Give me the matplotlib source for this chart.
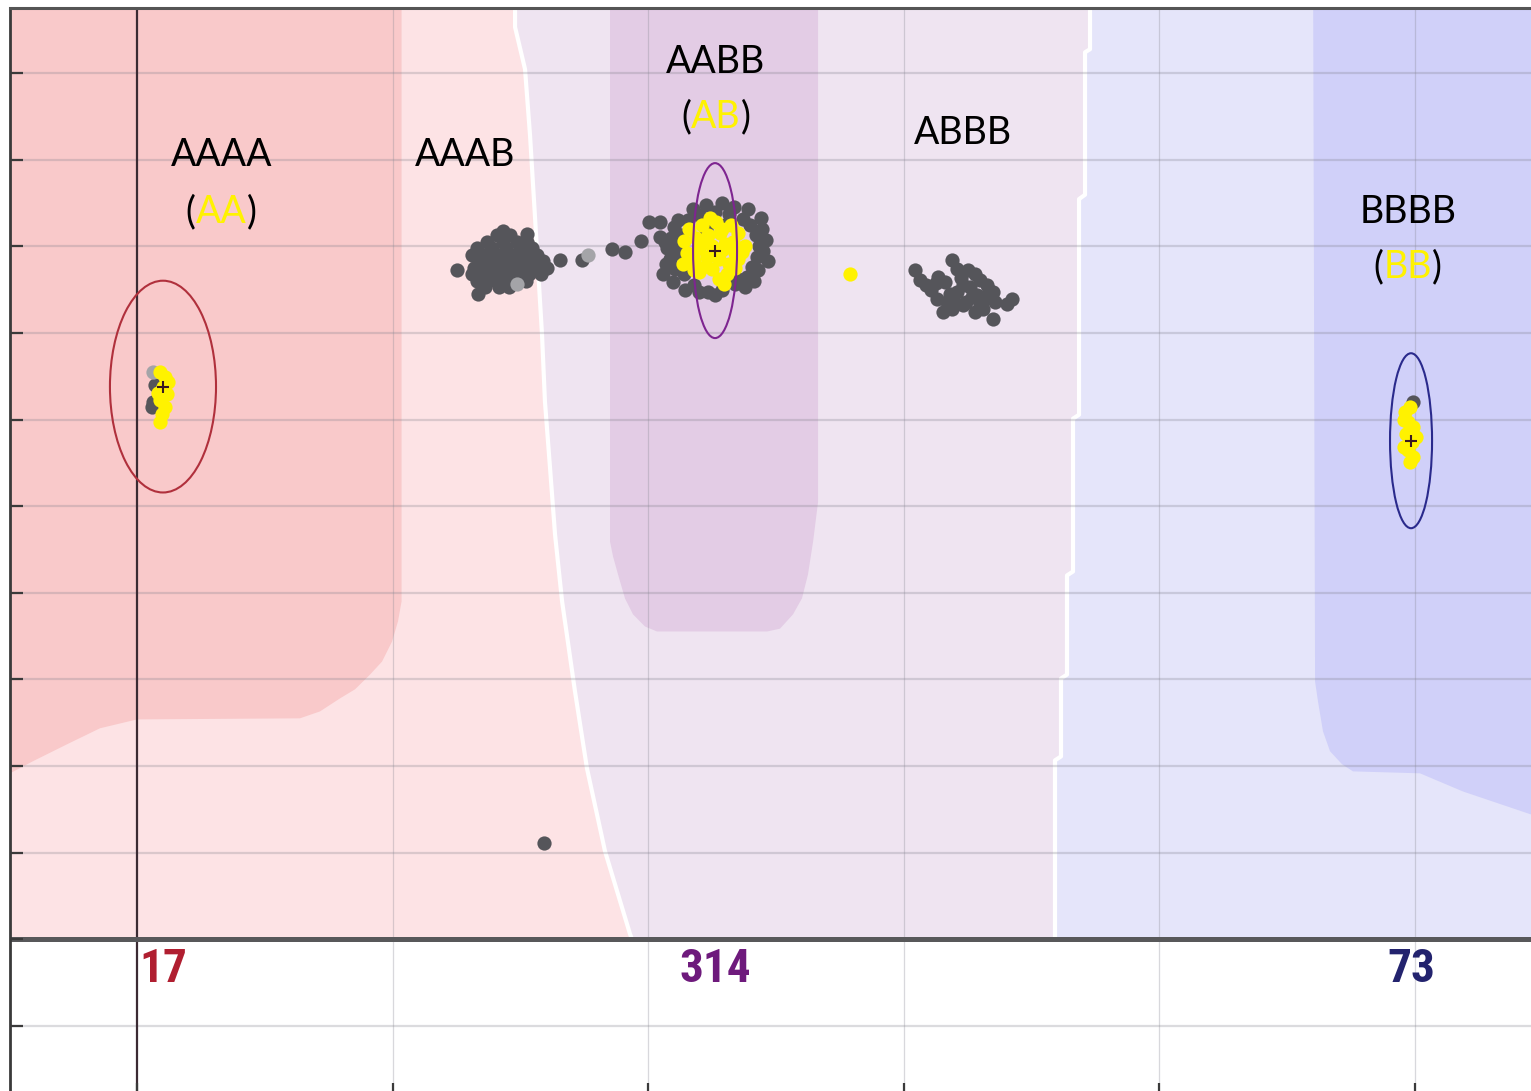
import matplotlib
matplotlib.use("Agg")
import matplotlib.pyplot as plt
from matplotlib.patches import Ellipse

# ---------------- genotype cluster data (Norm Theta, Norm R) ----------------
# AAAB cluster (uncalled, grey)
aaab_theta = [0.282, 0.292,
              0.274, 0.286, 0.297, 0.305,
              0.266, 0.278, 0.289, 0.300, 0.309,
              0.262, 0.271, 0.283, 0.294, 0.303, 0.313,
              0.268, 0.276, 0.287, 0.297, 0.308, 0.318,
              0.264, 0.273, 0.281, 0.291, 0.301, 0.311, 0.321,
              0.262, 0.270, 0.279, 0.289, 0.298, 0.307, 0.316,
              0.266, 0.275, 0.285, 0.294, 0.304,
              0.272, 0.283, 0.291,
              0.267, 0.250, 0.286, 0.305]
aaab_r = [1.625, 1.625,
          1.610, 1.610, 1.610, 1.610,
          1.595, 1.595, 1.595, 1.595, 1.595,
          1.580, 1.580, 1.580, 1.580, 1.580, 1.580,
          1.565, 1.565, 1.565, 1.565, 1.565, 1.565,
          1.550, 1.550, 1.550, 1.550, 1.550, 1.550, 1.550,
          1.535, 1.535, 1.535, 1.535, 1.535, 1.535, 1.535,
          1.520, 1.520, 1.520, 1.520, 1.520,
          1.505, 1.505, 1.505,
          1.490, 1.546, 1.635, 1.628]

# samples trailing between AAAB and AABB
trail_theta = [0.331, 0.348, 0.372, 0.382, 0.394, 0.401, 0.409, 0.409]
trail_r = [1.569, 1.569, 1.594, 1.587, 1.612, 1.656, 1.656, 1.622]

# AABB cluster, grey samples
aabb_grey_theta = [0.440, 0.452, 0.463, 0.431, 0.474,
                   0.420, 0.418, 0.415, 0.417, 0.421, 0.426, 0.424,
                   0.4116, 0.4194, 0.4288, 0.436,
                   0.480, 0.484, 0.487, 0.485, 0.481, 0.477, 0.489, 0.490,
                   0.447, 0.458, 0.468, 0.445, 0.460,
                   0.413, 0.422, 0.414, 0.428, 0.423,
                   0.492, 0.494, 0.486, 0.478, 0.488, 0.470, 0.483,
                   0.440, 0.452, 0.476, 0.435, 0.467, 0.445, 0.458]
aabb_grey_r = [1.672, 1.680, 1.675, 1.660, 1.662,
               1.645, 1.620, 1.595, 1.570, 1.548, 1.625, 1.600,
               1.536, 1.518, 1.499, 1.510,
               1.650, 1.625, 1.600, 1.575, 1.552, 1.530, 1.640, 1.590,
               1.495, 1.500, 1.512, 1.640, 1.650,
               1.610, 1.585, 1.560, 1.535, 1.660,
               1.615, 1.565, 1.545, 1.685, 1.665, 1.525, 1.520,
               1.495, 1.488, 1.505, 1.685, 1.690, 1.695, 1.700]

# AABB cluster, called samples
aabb_call_theta = [0.432, 0.442, 0.453, 0.465, 0.470,
                   0.428, 0.437, 0.447, 0.456, 0.466,
                   0.430, 0.440, 0.450, 0.458, 0.468, 0.476,
                   0.427, 0.436, 0.446, 0.455, 0.463,
                   0.440, 0.450, 0.462, 0.459, 0.473,
                   0.445, 0.452, 0.460, 0.435, 0.445, 0.455,
                   0.436, 0.468, 0.448, 0.458, 0.470]
aabb_call_r = [1.640, 1.650, 1.655, 1.648, 1.630,
               1.612, 1.620, 1.625, 1.630, 1.610,
               1.585, 1.595, 1.600, 1.592, 1.585, 1.600,
               1.560, 1.565, 1.575, 1.570, 1.560,
               1.540, 1.548, 1.535, 1.513, 1.587,
               1.612, 1.580, 1.605, 1.580, 1.555, 1.525,
               1.545, 1.550, 1.665, 1.640, 1.570]

# single called sample between AABB and ABBB
lone_theta = [0.558]
lone_r = [1.536]

# ABBB cluster (uncalled, grey)
abbb_theta = [0.609, 0.613, 0.638, 0.642, 0.656, 0.621, 0.626, 0.634, 0.638, 0.649,
              0.657, 0.665, 0.670, 0.662, 0.670, 0.681, 0.685, 0.631, 0.646, 0.642,
              0.617, 0.632, 0.652, 0.660, 0.645, 0.636, 0.653, 0.663, 0.671, 0.646,
              0.656, 0.627, 0.650, 0.667, 0.640, 0.660, 0.625]
abbb_r = [1.546, 1.523, 1.569, 1.548, 1.536, 1.499, 1.479, 1.472, 1.456, 1.472,
          1.488, 1.511, 1.495, 1.456, 1.433, 1.467, 1.479, 1.449, 1.511, 1.495,
          1.511, 1.518, 1.506, 1.523, 1.527, 1.490, 1.483, 1.479, 1.472, 1.465,
          1.449, 1.530, 1.545, 1.500, 1.470, 1.465, 1.515]

# AAAA cluster
aaaa_grey_theta = [0.0141, 0.0125, 0.0118]
aaaa_grey_r = [1.280, 1.241, 1.228]
aaaa_call_theta = [0.0180, 0.0219, 0.0203, 0.0235, 0.0180, 0.0219, 0.0196, 0.0180, 0.0243, 0.0164]
aaaa_call_r = [1.310, 1.299, 1.276, 1.260, 1.246, 1.230, 1.213, 1.195, 1.287, 1.262]

# BBBB cluster
bbbb_grey_theta = [0.9984]
bbbb_grey_r = [1.241]
bbbb_call_theta = [0.9922, 0.9961, 0.9945, 0.9984, 0.9930, 0.9977, 0.9945, 0.9984,
                   0.9961, 0.9914, 1.0008, 0.9914]
bbbb_call_r = [1.218, 1.2295, 1.195, 1.183, 1.167, 1.149, 1.130, 1.114,
               1.103, 1.137, 1.160, 1.200]

# faint (low-quality) samples
faint_theta = [0.297, 0.353, 0.0125]
faint_r = [1.513, 1.580, 1.310]

# outlier at low intensity
low_theta = [0.3185]
low_r = [0.2215]

# cluster centres, spreads and sample counts
cluster_theta = [0.0203, 0.4523, 0.9969]
cluster_r = [1.276, 1.590, 1.151]
cluster_w = [0.083, 0.0344, 0.0329]
cluster_h = [0.489, 0.404, 0.404]
cluster_counts = [17, 314, 73]

# ---------------- call-region boundaries ----------------
# AAAA / AABB border
border1_theta = [0.2958, 0.2958, 0.3036, 0.3075, 0.3114, 0.3138, 0.3169, 0.3192,
                 0.3232, 0.3271, 0.3326, 0.3427, 0.3521, 0.3662, 0.3858, 0.3873]
border1_r = [2.30, 2.106, 2.009, 1.857, 1.668, 1.548, 1.396, 1.241,
             1.087, 0.934, 0.780, 0.572, 0.394, 0.203, 0.0115, 0.0]
# AABB / BBBB border
border2_theta = [0.7457, 0.7457, 0.7418, 0.7418, 0.7371, 0.7371, 0.7324, 0.7324,
                 0.7277, 0.7277, 0.7230, 0.7230, 0.7183, 0.7183]
border2_r = [2.30, 2.055, 2.048, 1.719, 1.709, 1.211, 1.202, 0.849,
             0.840, 0.611, 0.602, 0.422, 0.413, 0.0]
# high-confidence cores
core_aa_theta = [-0.2, 0.207, 0.207, 0.2042, 0.1995, 0.1917, 0.1823, 0.1706, 0.1588,
                 0.1432, 0.1275, 0.0, -0.029, -0.0548, -0.0814, -0.0994, -0.2]
core_aa_r = [2.30, 2.30, 0.780, 0.734, 0.687, 0.641, 0.611, 0.577, 0.556,
             0.526, 0.510, 0.5075, 0.487, 0.450, 0.411, 0.383, 0.35]
core_ab_theta = [0.3701, 0.3701, 0.3725, 0.3764, 0.3818, 0.3881, 0.3975, 0.4069,
                 0.4930, 0.5031, 0.5133, 0.5203, 0.5250, 0.5290, 0.5329, 0.5329]
core_ab_r = [2.30, 0.918, 0.8835, 0.842, 0.787, 0.750, 0.722, 0.7105,
             0.7105, 0.717, 0.750, 0.787, 0.842, 0.918, 1.010, 2.30]
core_bb_theta = [0.9202, 0.9218, 0.9241, 0.9280, 0.9335, 0.9429, 0.9515, 1.0039,
                 1.0376, 1.0908, 1.2, 1.2]
core_bb_r = [2.30, 0.595, 0.549, 0.480, 0.434, 0.404, 0.3875, 0.383,
             0.341, 0.288, 0.26, 2.30]

grid_theta = [0.2, 0.4, 0.6, 0.8, 1.0]
grid_r = [-0.2, 0.2, 0.4, 0.6, 0.8, 1.0, 1.2, 1.4, 1.6, 1.8, 2.0]

# ---------------- styling ----------------
PINK_CORE = '#F9C9CA'
PINK_OUT = '#FDE3E5'
LAV_OUT = '#EFE4F1'
LAV_CORE = '#E3CCE5'
BLUE_OUT = '#E5E5FA'
BLUE_CORE = '#D0D0F9'
GREY_DOT = '#55555A'
YELLOW = '#FFF200'
LABEL_FONT = ['Lato', 'DejaVu Sans']
COUNT_FONT = ['Liberation Sans Narrow', 'Noto Sans Condensed', 'Roboto Condensed',
              'Open Sans Condensed', 'Noto Sans', 'DejaVu Sans']
ELL_COLORS = ['#B0303C', '#7E2590', '#2A2A8C']
COUNT_COLORS = ['#B01E30', '#6E1A7C', '#23236E']

fig = plt.figure(figsize=(15.31, 10.91), dpi=100)
ax = fig.add_axes([10 / 1531, -0.00375, 1532.8 / 1531, 0.99673])
ax.set_xlim(-0.0994, 1.1)
ax.set_ylim(-0.36, 2.151)

# call regions
ax.fill_between([-0.2, 1.2], 0, 2.3, color=LAV_OUT, lw=0, zorder=0.5)
ax.fill_betweenx(border1_r, -0.2, border1_theta, color=PINK_OUT, lw=0, zorder=0.6)
ax.fill_betweenx(border2_r, border2_theta, 1.2, color=BLUE_OUT, lw=0, zorder=0.6)
ax.fill(core_aa_theta, core_aa_r, color=PINK_CORE, lw=0, zorder=0.7)
ax.fill(core_ab_theta, core_ab_r, color=LAV_CORE, lw=0, zorder=0.7)
ax.fill(core_bb_theta, core_bb_r, color=BLUE_CORE, lw=0, zorder=0.7)
ax.plot(border1_theta, border1_r, color='white', lw=3.0, zorder=0.9)
ax.plot(border2_theta, border2_r, color='white', lw=3.0, zorder=0.9)

# grid
for r in grid_r:
    ax.axhline(r, color='#7C7C88', alpha=0.27, lw=1.6, zorder=1.2)
for t in grid_theta:
    ax.axvline(t, color='#8A8A95', alpha=0.33, lw=0.9, zorder=1.2)
ax.axvline(0.0, color='#3B2B33', lw=1.6, zorder=1.3)
ax.axhline(0.0, color='#58585A', lw=3.6, zorder=1.4)

# samples
dot = dict(s=105, linewidths=0, zorder=4)
ax.scatter(aaab_theta, aaab_r, color=GREY_DOT, **dot)
ax.scatter(trail_theta, trail_r, color=GREY_DOT, **dot)
ax.scatter(aabb_grey_theta, aabb_grey_r, color=GREY_DOT, **dot)
ax.scatter(abbb_theta, abbb_r, color=GREY_DOT, **dot)
ax.scatter(low_theta, low_r, color=GREY_DOT, **dot)
ax.scatter(aaaa_grey_theta, aaaa_grey_r, color=GREY_DOT, **dot)
ax.scatter(bbbb_grey_theta, bbbb_grey_r, color=GREY_DOT, **dot)
ax.scatter(faint_theta, faint_r, color='#A4A4A8', **dot)
ax.scatter(aabb_call_theta, aabb_call_r, color=YELLOW, **dot)
ax.scatter(aaaa_call_theta, aaaa_call_r, color=YELLOW, **dot)
ax.scatter(bbbb_call_theta, bbbb_call_r, color=YELLOW, **dot)
ax.scatter(lone_theta, lone_r, color=YELLOW, **dot)

# cluster ellipses, centres and counts
for t, r, w, h, c, n, cc in zip(cluster_theta, cluster_r, cluster_w, cluster_h,
                                ELL_COLORS, cluster_counts, COUNT_COLORS):
    ax.add_patch(Ellipse((t, r), w, h, fill=False, ec=c, lw=1.5, zorder=5))
    ax.plot([t], [r], marker='+', ms=9, mew=1.5, color='#3A1A22', zorder=6)
    ax.text(t, -0.0992, str(n), color=cc, fontsize=34, family=COUNT_FONT,
            fontstretch='condensed', fontweight='semibold',
            ha='center', va='baseline', zorder=7)

# genotype labels
LFS = 27


def label(x, y, s):
    ax.text(x, y, s, fontsize=LFS, family=LABEL_FONT, color='black',
            ha='center', va='baseline', zorder=8)


def paren_label(x, y, s):
    mid = ax.text(x, y, s, fontsize=LFS, family=LABEL_FONT, color=YELLOW,
                  ha='center', va='baseline', zorder=8)
    ax.annotate('(', xy=(0, 0), xycoords=mid, ha='right', va='bottom',
                fontsize=LFS, family=LABEL_FONT, color='black', zorder=8)
    ax.annotate(')', xy=(1, 0), xycoords=mid, ha='left', va='bottom',
                fontsize=LFS, family=LABEL_FONT, color='black', zorder=8)


label(0.0665, 1.7855, 'AAAA')
paren_label(0.0657, 1.654, 'AA')
label(0.2567, 1.7855, 'AAAB')
label(0.453, 2.000, 'AABB')
paren_label(0.453, 1.873, 'AB')
label(0.6463, 1.836, 'ABBB')
label(0.995, 1.654, 'BBBB')
paren_label(0.9945, 1.527, 'BB')

# axes frame and ticks
ax.set_xticks([0.0] + grid_theta)
ax.set_yticks([-0.2, 0.0] + grid_r[1:])
ax.tick_params(axis='both', direction='in', length=9, width=1.6, color='#3A3A3A',
               labelbottom=False, labelleft=False)
for side in ('right', 'bottom'):
    ax.spines[side].set_visible(False)
ax.spines['top'].set_color('#555555')
ax.spines['top'].set_linewidth(2.2)
ax.spines['left'].set_color('#3A3A3A')
ax.spines['left'].set_linewidth(2.0)

fig.savefig('out.png', dpi=100, facecolor='white')
